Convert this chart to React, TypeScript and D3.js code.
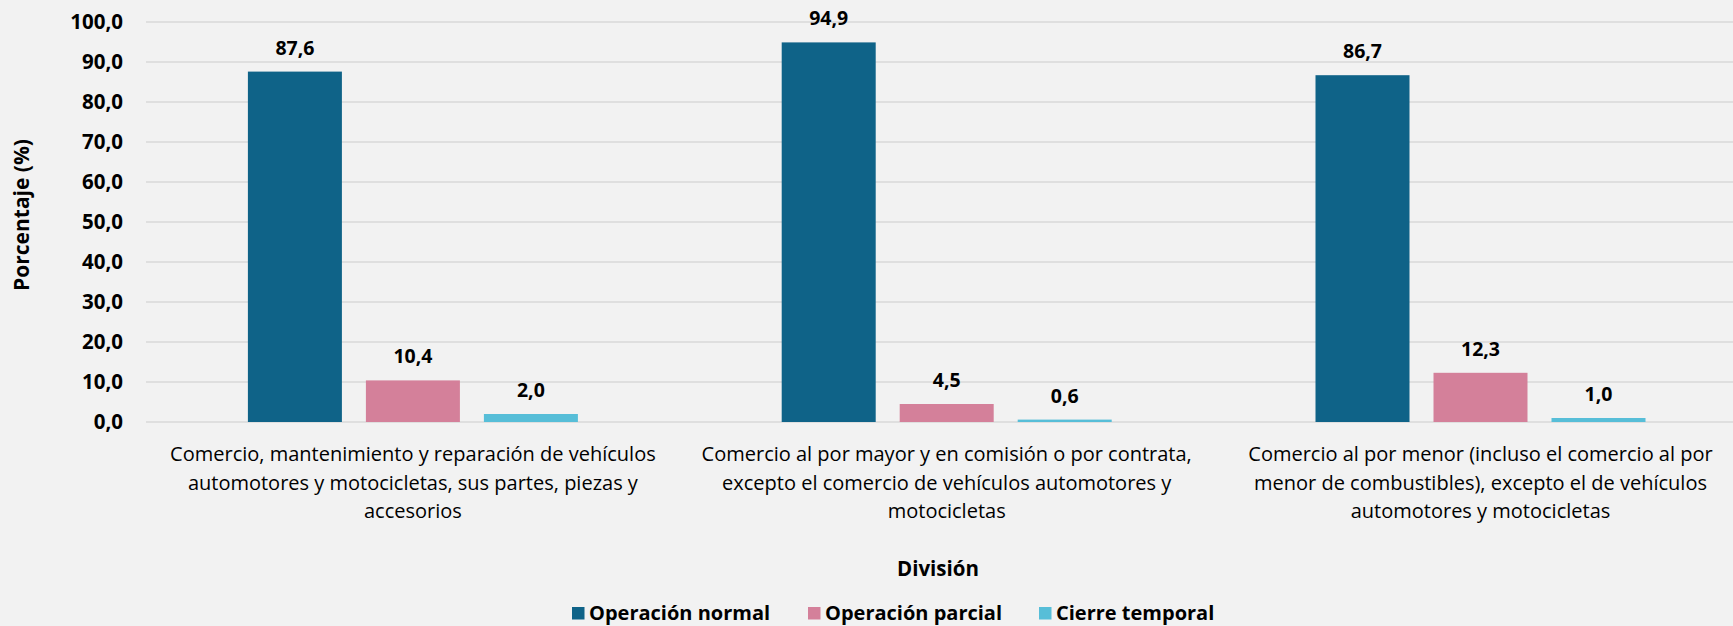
import React from "react";
import * as d3 from "d3";

const categories = [
  "Comercio, mantenimiento y reparación de vehículos automotores y motocicletas, sus partes, piezas y accesorios",
  "Comercio al por mayor y en comisión o por contrata, excepto el comercio de vehículos automotores y motocicletas",
  "Comercio al por menor (incluso el comercio al por menor de combustibles), excepto el de vehículos automotores y motocicletas",
];
const categoryLines = [
  ["Comercio, mantenimiento y reparación de vehículos", "automotores y motocicletas, sus partes, piezas y", "accesorios"],
  ["Comercio al por mayor y en comisión o por contrata,", "excepto el comercio de vehículos automotores y", "motocicletas"],
  ["Comercio al por menor (incluso el comercio al por", "menor de combustibles), excepto el de vehículos", "automotores y motocicletas"],
];
const seriesNames = ["Operación normal", "Operación parcial", "Cierre temporal"];
const operacionNormal = [87.6, 94.9, 86.7];
const operacionParcial = [10.4, 4.5, 12.3];
const cierreTemporal = [2.0, 0.6, 1.0];
const yTicks = [0, 10, 20, 30, 40, 50, 60, 70, 80, 90, 100];
const colors = ["#0f6388", "#d4809a", "#57bed8"];

const W = 1733;
const H = 626;
const FONT = "'Open Sans', 'Noto Sans', sans-serif";

export default function App() {
  const seriesValues = [operacionNormal, operacionParcial, cierreTemporal];
  const x = d3.scaleBand<string>().domain(categories).range([146, 1747.4]);
  const bw = x.bandwidth();
  const xi = d3
    .scaleBand<string>()
    .domain(seriesNames)
    .range([101.9, bw - 101.9])
    .paddingInner(24 / 118);
  const y = d3.scaleLinear().domain([0, 100]).range([422, 22]);
  const fmt = (v: number) => v.toFixed(1).replace(".", ",");

  const legendX = [572, 808, 1039];

  return (
    <svg
      width={W}
      height={H}
      style={{ position: "fixed", left: 0, top: 0, background: "#f2f2f2" }}
      fontFamily={FONT}
    >
      <rect x={0} y={0} width={W} height={H} fill="#f2f2f2" />
      {yTicks.map((t) => (
        <g key={t}>
          <line x1={146} x2={W} y1={y(t)} y2={y(t)} stroke="#d9d9d9" strokeWidth={1.6} />
          <text
            x={123}
            y={y(t)}
            dy="0.35em"
            textAnchor="end"
            fontSize={20.5}
            fontWeight={700}
            fill="#000"
          >
            {fmt(t)}
          </text>
        </g>
      ))}
      {categories.map((c, ci) => (
        <g key={c} transform={`translate(${x(c)},0)`}>
          {seriesNames.map((s, si) => {
            const v = seriesValues[si][ci];
            const bx = xi(s)!;
            return (
              <g key={s}>
                <rect
                  x={bx}
                  y={y(v)}
                  width={xi.bandwidth()}
                  height={y(0) - y(v)}
                  fill={colors[si]}
                />
                <text
                  x={bx + xi.bandwidth() / 2}
                  y={y(v) - 17}
                  textAnchor="middle"
                  fontSize={19.5}
                  fontWeight={700}
                  fill="#000"
                >
                  {fmt(v)}
                </text>
              </g>
            );
          })}
          {categoryLines[ci].map((ln, li) => (
            <text
              key={li}
              x={bw / 2}
              y={461 + li * 28.5}
              textAnchor="middle"
              fontSize={20}
              fill="#000"
            >
              {ln}
            </text>
          ))}
        </g>
      ))}
      <text
        transform={`translate(22,215) rotate(-90)`}
        textAnchor="middle"
        dy="0.35em"
        fontSize={21}
        fontWeight={700}
        fill="#000"
      >
        Porcentaje (%)
      </text>
      <text x={938} y={576} textAnchor="middle" fontSize={20.5} fontWeight={700} fill="#000">
        División
      </text>
      {seriesNames.map((s, i) => (
        <g key={s}>
          <rect x={legendX[i]} y={607} width={12.5} height={12.5} fill={colors[i]} />
          <text x={legendX[i] + 17} y={620} fontSize={20} fontWeight={700} fill="#000">
            {s}
          </text>
        </g>
      ))}
    </svg>
  );
}
